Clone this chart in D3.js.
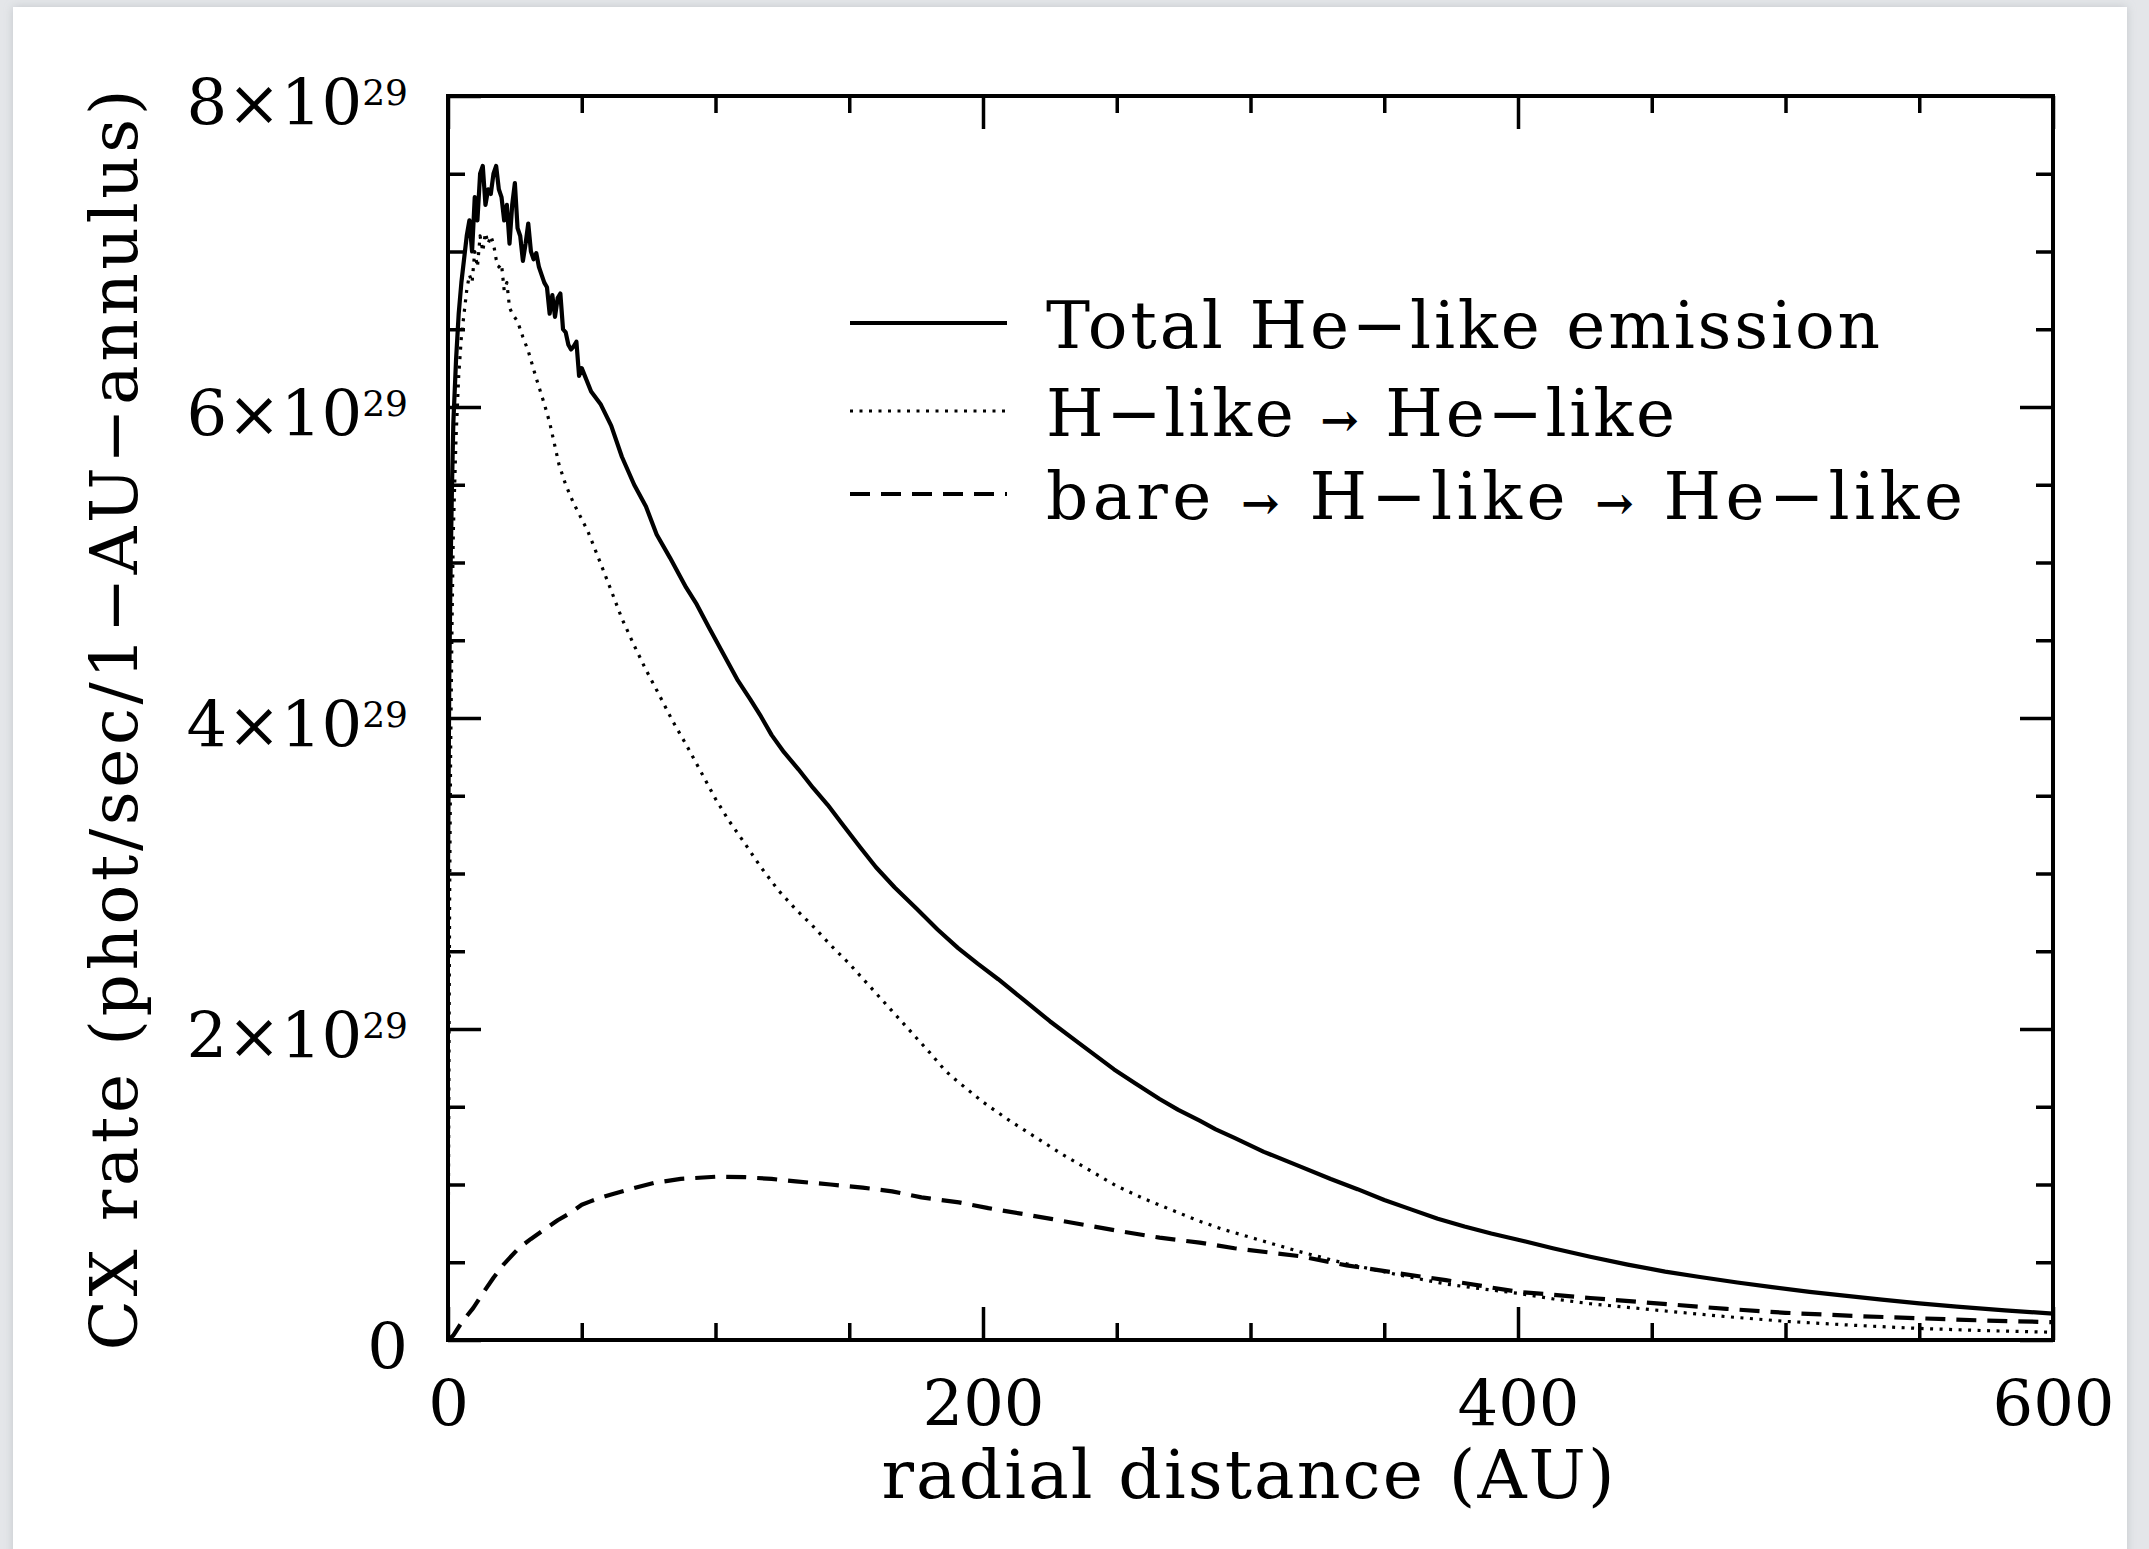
<!DOCTYPE html>
<html>
<head>
<meta charset="utf-8">
<script src="https://cdn.jsdelivr.net/npm/d3@7"></script>
<style>
  html, body { margin: 0; padding: 0; background: #e4e6e9; }
  svg { display: block; }
</style>
</head>
<body>
<svg id="chart" width="2149" height="1549"></svg>
<script>
// ---------------- data (values in units of 1e29 phot/sec/1-AU-annulus) ----------------
const UNIT = 1e29;

const totalR = [0,0.5,1,1.5,2,3,4,5,6,7,8,9,10,11,12,13,14,15,16,17,18,19,20,21,22,23,24,25,26,27,28,29,30,31,32,33,34,35,36,37,38,39,40,41,42,43,44,45,46,47,48,49,50,53.5,57,61,65,69.6,74,78,83,89,93,97.6,103,108.4,113,117,121,125.6,131,136.5,142,147.3,154,160,167,175.4,183,190.7,198,205.7,215,225,235,242,249,257,266,273,281,287,294,305,318,330,340,350,360,370,380,390,400,413,427,441,455,468,482,495,509,522,536,550,564,582,600];
const totalV = [3.0,4.3,5.0,5.5,5.9,6.3,6.6,6.8,6.95,7.1,7.2,7.0,7.35,7.2,7.5,7.55,7.3,7.4,7.37,7.5,7.55,7.4,7.35,7.2,7.3,7.05,7.3,7.44,7.15,7.1,6.94,7.05,7.18,7.0,6.95,6.99,6.9,6.85,6.8,6.77,6.6,6.72,6.58,6.7,6.73,6.5,6.48,6.4,6.37,6.39,6.42,6.2,6.25,6.10,6.02,5.88,5.68,5.50,5.36,5.18,5.03,4.84,4.73,4.58,4.41,4.24,4.12,4.01,3.89,3.78,3.67,3.55,3.44,3.32,3.17,3.04,2.91,2.77,2.64,2.52,2.42,2.32,2.19,2.05,1.92,1.83,1.74,1.65,1.55,1.48,1.41,1.355,1.30,1.21,1.12,1.035,0.97,0.90,0.84,0.78,0.73,0.685,0.645,0.59,0.535,0.485,0.44,0.405,0.37,0.34,0.31,0.285,0.26,0.235,0.215,0.19,0.17];

const hlikeR = [0,0.3,0.6,1,1.5,2,3,4,5,6,7,8,9,10,11,12,13,14,15,16,17,18,19,20,21,22,23,24,26,28,30,32.9,36,38,41.5,44,47,52.3,56,61,65,69.5,74,78,84,89,95,100,105,110.7,117,123.6,130,136.5,143,150,160,170,180,186,190,200,210,220,230,240,250,260,270,280,290,300,318,336,355,373,386,400,413,427,441,456,478,500,525,549,575,600];
const hlikeV = [0.2,1.5,2.8,3.8,4.6,5.2,5.8,6.2,6.45,6.6,6.75,6.85,6.8,7.0,6.9,7.1,7.0,7.12,7.05,7.1,7.05,6.95,6.9,6.92,6.75,6.8,6.64,6.6,6.55,6.45,6.36,6.19,6.02,5.9,5.63,5.5,5.38,5.2,5.04,4.82,4.64,4.47,4.31,4.18,3.98,3.83,3.64,3.48,3.34,3.2,3.04,2.89,2.77,2.66,2.54,2.42,2.23,2.04,1.85,1.73,1.67,1.53,1.41,1.30,1.19,1.09,0.99,0.91,0.84,0.77,0.71,0.66,0.57,0.49,0.42,0.36,0.33,0.30,0.265,0.233,0.21,0.185,0.15,0.12,0.095,0.075,0.06,0.05];

const bareR = [0,2,5,9.4,13,17,21,26.4,31,36,41,46,50,53,56.6,62,68,77,87,100,111,121,130,143,155,166,177,191,202,215,226,240,251,266,281,294,318,336,355,373,400,427,456,478,500,525,549,575,600];
const bareV = [0,0.03,0.11,0.205,0.3,0.4,0.49,0.59,0.65,0.71,0.77,0.82,0.87,0.89,0.913,0.94,0.97,1.01,1.036,1.05,1.047,1.036,1.02,1.0,0.98,0.956,0.917,0.885,0.848,0.81,0.777,0.734,0.7,0.658,0.626,0.59,0.54,0.48,0.43,0.385,0.31,0.27,0.23,0.2,0.175,0.155,0.14,0.125,0.115];

const seriesNames = ["Total He\u2212like emission", "H\u2212like \u2192 He\u2212like", "bare \u2192 H\u2212like \u2192 He\u2212like"];

const xMajorTicks = [0, 200, 400, 600];
const xMinorTicks = [50, 100, 150, 250, 300, 350, 450, 500, 550];
const yMajorTicks = [0, 2, 4, 6, 8];           // x 1e29
const yMinorTicks = [0.5,1,1.5,2.5,3,3.5,4.5,5,5.5,6.5,7,7.5];
const yTickMantissa = ["0", "2\u00d710", "4\u00d710", "6\u00d710", "8\u00d710"];
const yTickExponent = ["", "29", "29", "29", "29"];

const xLabel = "radial distance (AU)";
const yLabel = "CX rate (phot/sec/1\u2212AU\u2212annulus)";

// ---------------- layout ----------------
const plot = {left: 448, right: 2053, top: 96, bottom: 1340};
const FONT = "'DejaVu Serif', 'Liberation Serif', serif";
const FS_TICK = 64, FS_LEG = 66, FS_XL = 68, FS_YL = 66;

const svg = d3.select("#chart");

// card
const defs = svg.append("defs");
const f = defs.append("filter").attr("id", "shadow").attr("x", "-5%").attr("y", "-5%").attr("width", "110%").attr("height", "110%");
f.append("feDropShadow").attr("dx", 0).attr("dy", 0).attr("stdDeviation", 5).attr("flood-color", "#9aa0a6").attr("flood-opacity", 0.45);
svg.append("rect").attr("x", 13).attr("y", 7).attr("width", 2114).attr("height", 1560)
  .attr("fill", "#ffffff").attr("filter", "url(#shadow)");

defs.append("clipPath").attr("id", "clip").append("rect")
  .attr("x", plot.left).attr("y", plot.top)
  .attr("width", plot.right - plot.left).attr("height", plot.bottom - plot.top);

const x = d3.scaleLinear().domain([0, 600]).range([plot.left, plot.right]);
const y = d3.scaleLinear().domain([0, 8 * UNIT]).range([plot.bottom, plot.top]);

// ---------------- axes ----------------
function styleAxis(g) {
  g.select(".domain").remove();
  g.selectAll(".tick line").attr("stroke", "#000").attr("stroke-width", 3.5);
}
const MAJ = 33, MIN = 17;

// bottom
svg.append("g").attr("transform", `translate(0,${plot.bottom})`)
  .call(d3.axisBottom(x).tickValues(xMajorTicks).tickSizeInner(-MAJ).tickSizeOuter(0).tickPadding(0).tickFormat(d3.format("d")))
  .call(styleAxis)
  .call(g => g.selectAll(".tick text").attr("y", 86).attr("dy", 0)
      .attr("font-family", FONT).attr("font-size", FS_TICK).attr("fill", "#000"));
svg.append("g").attr("transform", `translate(0,${plot.bottom})`)
  .call(d3.axisBottom(x).tickValues(xMinorTicks).tickSizeInner(-MIN).tickSizeOuter(0).tickFormat(""))
  .call(styleAxis);
// top
svg.append("g").attr("transform", `translate(0,${plot.top})`)
  .call(d3.axisTop(x).tickValues(xMajorTicks).tickSizeInner(-MAJ).tickSizeOuter(0).tickFormat(""))
  .call(styleAxis);
svg.append("g").attr("transform", `translate(0,${plot.top})`)
  .call(d3.axisTop(x).tickValues(xMinorTicks).tickSizeInner(-MIN).tickSizeOuter(0).tickFormat(""))
  .call(styleAxis);
// left
const yLeft = svg.append("g").attr("transform", `translate(${plot.left},0)`)
  .call(d3.axisLeft(y).tickValues(yMajorTicks.map(v => v * UNIT)).tickSizeInner(-MAJ).tickSizeOuter(0).tickPadding(40).tickFormat(""))
  .call(styleAxis);
yLeft.selectAll(".tick text").each(function(d, i) {
  const t = d3.select(this).attr("dy", 0).attr("y", 28)
    .attr("font-family", FONT).attr("font-size", FS_TICK).attr("fill", "#000").attr("text-anchor", "end");
  t.text(null);
  t.append("tspan").text(yTickMantissa[i]);
  if (yTickExponent[i]) t.append("tspan").attr("font-size", 36).attr("dy", -20).text(yTickExponent[i]);
});
svg.append("g").attr("transform", `translate(${plot.left},0)`)
  .call(d3.axisLeft(y).tickValues(yMinorTicks.map(v => v * UNIT)).tickSizeInner(-MIN).tickSizeOuter(0).tickFormat(""))
  .call(styleAxis);
// right
svg.append("g").attr("transform", `translate(${plot.right},0)`)
  .call(d3.axisRight(y).tickValues(yMajorTicks.map(v => v * UNIT)).tickSizeInner(-MAJ).tickSizeOuter(0).tickFormat(""))
  .call(styleAxis);
svg.append("g").attr("transform", `translate(${plot.right},0)`)
  .call(d3.axisRight(y).tickValues(yMinorTicks.map(v => v * UNIT)).tickSizeInner(-MIN).tickSizeOuter(0).tickFormat(""))
  .call(styleAxis);

// frame
svg.append("rect").attr("x", plot.left).attr("y", plot.top)
  .attr("width", plot.right - plot.left).attr("height", plot.bottom - plot.top)
  .attr("fill", "none").attr("stroke", "#000").attr("stroke-width", 4);

// ---------------- lines ----------------
const line = d3.line().x(d => x(d[0])).y(d => y(d[1] * UNIT));
const styles = [
  {dash: null, width: 4.2},
  {dash: "3,6.5", width: 3.2},
  {dash: "20,11", width: 4.2}
];
const series = [
  d3.zip(totalR, totalV),
  d3.zip(hlikeR, hlikeV),
  d3.zip(bareR, bareV)
];
const lines = svg.append("g").attr("clip-path", "url(#clip)");
series.forEach((s, i) => {
  lines.append("path").datum(s).attr("d", line)
    .attr("fill", "none").attr("stroke", "#000")
    .attr("stroke-width", styles[i].width)
    .attr("stroke-dasharray", styles[i].dash)
    .attr("stroke-linejoin", "round");
});

// ---------------- legend ----------------
const legendRowsY = [323, 411, 494];
const legendTextLen = [834, 629, 917];
const leg = svg.append("g");
seriesNames.forEach((name, i) => {
  leg.append("line").attr("x1", 850).attr("x2", 1007)
    .attr("y1", legendRowsY[i]).attr("y2", legendRowsY[i])
    .attr("stroke", "#000").attr("stroke-width", styles[i].width)
    .attr("stroke-dasharray", styles[i].dash);
  const t = leg.append("text").attr("x", 1046).attr("y", legendRowsY[i] + 25)
    .attr("font-family", FONT).attr("font-size", FS_LEG).attr("fill", "#000")
    .attr("textLength", legendTextLen[i]).attr("lengthAdjust", "spacing");
  name.split("\u2192").forEach((part, k) => {
    if (k > 0) t.append("tspan").attr("font-size", 46).attr("font-weight", "bold").text("\u2192");
    t.append("tspan").attr("font-size", FS_LEG).attr("font-weight", "normal").text(part);
  });
});

// ---------------- axis titles ----------------
svg.append("text").attr("x", 1248).attr("y", 1498)
  .attr("text-anchor", "middle").attr("font-family", FONT).attr("font-size", FS_XL)
  .attr("textLength", 733).attr("lengthAdjust", "spacing")
  .text(xLabel);
svg.append("text").attr("transform", "translate(137,720) rotate(-90)")
  .attr("text-anchor", "middle").attr("font-family", FONT).attr("font-size", FS_YL)
  .attr("textLength", 1261).attr("lengthAdjust", "spacing")
  .text(yLabel);
</script>
</body>
</html>
